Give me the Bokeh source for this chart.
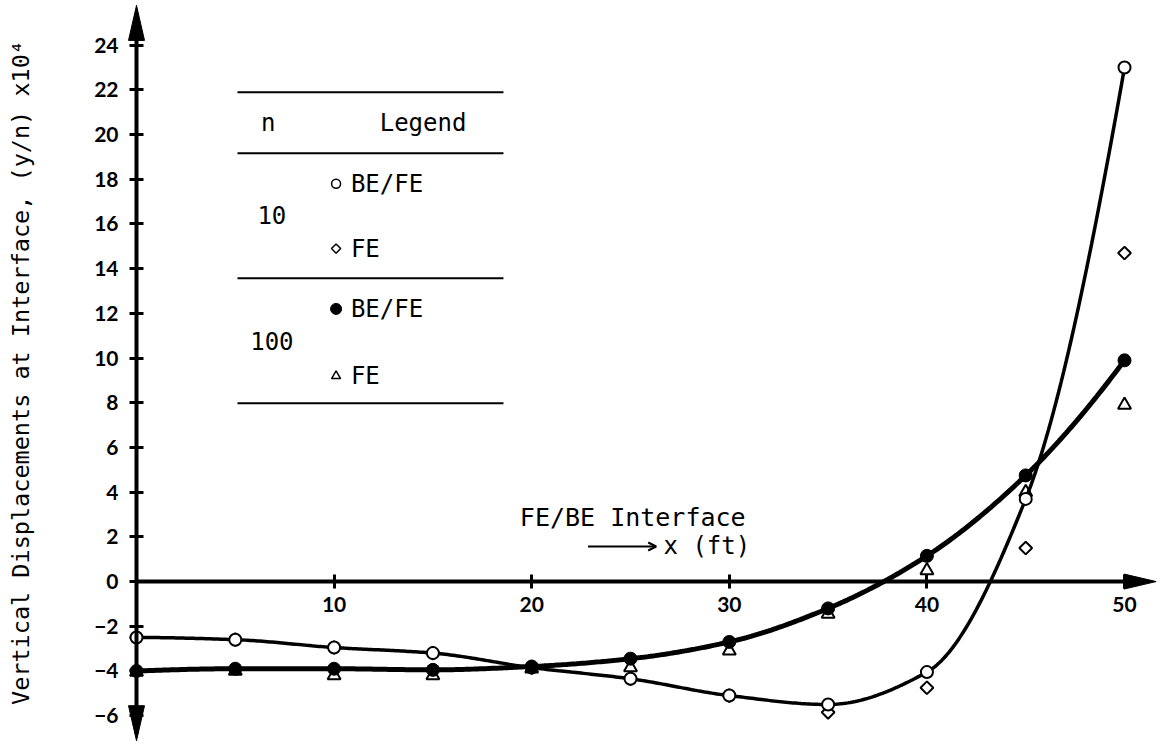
import numpy as np
from bokeh.plotting import figure
from bokeh.models import Range1d, FixedTicker, Arrow, OpenHead, LinearAxis
from bokeh.core.properties import value
from bokeh.embed import file_html
from bokeh.resources import INLINE

# ---------------- data ----------------
x_ft = [0, 5, 10, 15, 20, 25, 30, 35, 40, 45, 50]
n10_befe = [-2.5, -2.6, -2.95, -3.2, -3.85, -4.35, -5.1, -5.5, -4.05, 3.7, 23.0]
n10_fe = [-2.5, -2.6, -2.95, -3.2, -3.85, -4.35, -5.1, -5.85, -4.75, 1.5, 14.7]
n100_befe = [-4.0, -3.9, -3.9, -3.95, -3.8, -3.45, -2.7, -1.2, 1.15, 4.75, 9.9]
n100_fe = [-4.05, -4.0, -4.2, -4.2, -3.9, -3.85, -3.1, -1.45, 0.5, 4.0, 7.9]

y_ticks = [-6, -4, -2, 0, 2, 4, 6, 8, 10, 12, 14, 16, 18, 20, 22, 24]
x_ticks = [10, 20, 30, 40, 50]

y_label = "Vertical Displacements at Interface, (y/n) x10\u2074"
legend_rows = ["n", "Legend"]
legend_n = ["10", "100"]
legend_items = ["BE/FE", "FE", "BE/FE", "FE"]

# ---------------- layout constants ----------------
W, H = 1158, 744
BORDER_L = 120
X0, X1 = -0.81, 51.72
Y0, Y1 = -7.29, 26.0
PX_X = (W - BORDER_L) / (X1 - X0)
PX_Y = H / (Y1 - Y0)


def pchip(xk, yk, n_per=40):
    xk = np.asarray(xk, float)
    yk = np.asarray(yk, float)
    h = np.diff(xk)
    d = np.diff(yk) / h
    m = np.zeros_like(yk)
    for k in range(1, len(xk) - 1):
        if d[k - 1] * d[k] > 0:
            w1 = 2 * h[k] + h[k - 1]
            w2 = h[k] + 2 * h[k - 1]
            m[k] = (w1 + w2) / (w1 / d[k - 1] + w2 / d[k])

    def end(h0, h1, d0, d1):
        mm = ((2 * h0 + h1) * d0 - h0 * d1) / (h0 + h1)
        if np.sign(mm) != np.sign(d0):
            mm = 0.0
        elif np.sign(d0) != np.sign(d1) and abs(mm) > abs(3 * d0):
            mm = 3 * d0
        return mm

    m[0] = end(h[0], h[1], d[0], d[1])
    m[-1] = end(h[-1], h[-2], d[-1], d[-2])
    xs, ys = [], []
    for k in range(len(h)):
        t = np.linspace(0, 1, n_per, endpoint=(k == len(h) - 1))
        h00 = 2 * t**3 - 3 * t**2 + 1
        h10 = t**3 - 2 * t**2 + t
        h01 = -2 * t**3 + 3 * t**2
        h11 = t**3 - t**2
        xs.append(xk[k] + t * h[k])
        ys.append(h00 * yk[k] + h10 * h[k] * m[k] + h01 * yk[k + 1] + h11 * h[k] * m[k + 1])
    return np.concatenate(xs), np.concatenate(ys)


p = figure(width=W, height=H, output_backend="svg", toolbar_location=None,
           x_range=Range1d(X0, X1), y_range=Range1d(Y0, Y1),
           min_border_left=BORDER_L, min_border_right=0,
           min_border_top=0, min_border_bottom=0)
p.grid.visible = False
p.outline_line_color = None
p.background_fill_color = "white"
p.border_fill_color = "white"

# left axis: only tick labels and the title
ly = p.yaxis[0]
ly.ticker = FixedTicker(ticks=y_ticks)
ly.axis_line_color = None
ly.major_tick_line_color = None
ly.minor_tick_line_color = None
ly.major_tick_in = 0
ly.major_tick_out = 0
ly.major_label_standoff = 2
ly.major_label_text_font = "Lato"
ly.major_label_text_font_style = "bold"
ly.major_label_text_font_size = "21px"
ly.major_label_text_color = "black"
ly.axis_label = y_label
ly.axis_label_text_font = "DejaVu Sans Mono"
ly.axis_label_text_font_style = "normal"
ly.axis_label_text_font_size = "23.5px"
ly.axis_label_text_color = "black"
ly.axis_label_standoff = 56

# axes lines through the origin
vy = LinearAxis(fixed_location=0, ticker=FixedTicker(ticks=y_ticks),
                major_label_text_font_size="0px", major_label_text_color=None)
p.add_layout(vy, "left")
bx = p.xaxis[0]
bx.fixed_location = 0
bx.ticker = FixedTicker(ticks=x_ticks)
for ax in (bx, vy):
    ax.axis_line_width = 4
    ax.axis_line_color = "black"
    ax.major_tick_in = 7
    ax.major_tick_out = 7
    ax.major_tick_line_width = 3
    ax.major_tick_line_color = "black"
    ax.minor_tick_line_color = None
bx.bounds = (0, 50.8)
vy.bounds = (-6.8, 25.0)
bx.major_label_text_font = "Lato"
bx.major_label_text_font_style = "bold"
bx.major_label_text_font_size = "21px"
bx.major_label_text_color = "black"
bx.major_label_standoff = 8

# arrow heads on the axes
top_tip, bot_tip, right_tip = 25.78, -7.12, 51.6
hw_x = 8 / PX_X
hl_y = 35 / PX_Y
hw_y = 7.5 / PX_Y
hl_x = 32 / PX_X
p.patches(xs=[[0, -hw_x, hw_x], [0, -hw_x, hw_x], [right_tip, right_tip - hl_x, right_tip - hl_x]],
          ys=[[top_tip, top_tip - hl_y, top_tip - hl_y], [bot_tip, bot_tip + hl_y, bot_tip + hl_y],
              [0, hw_y, -hw_y]],
          fill_color="black", line_color="black", line_width=1)

# ---------------- data marks ----------------
cx10, cy10 = pchip(x_ft, n10_befe)
cx100, cy100 = pchip(x_ft, n100_befe)

p.scatter(x_ft, n100_fe, marker="triangle", size=13, fill_color="white",
          line_color="black", line_width=2)
p.scatter(x_ft, n10_fe, marker="square", angle=np.pi / 4, size=9, fill_color="white",
          line_color="black", line_width=2)
p.line(cx10, cy10, line_width=3.5, line_color="black")
p.line(cx100, cy100, line_width=5, line_color="black")
p.scatter(x_ft, n10_befe, marker="circle", size=12, fill_color="white",
          line_color="black", line_width=2)
p.scatter(x_ft, n100_befe, marker="circle", size=13, fill_color="black",
          line_color="black", line_width=1)

# ---------------- legend table ----------------
lx0, lx1 = 5.11, 18.57
ly_lines = [21.9, 19.17, 13.57, 7.98]
p.segment(x0=[lx0] * 4, x1=[lx1] * 4, y0=ly_lines, y1=ly_lines,
          line_color="black", line_width=2)
tf = value("DejaVu Sans Mono")
fs = value("24px")
p.text(x=[6.67, 14.5], y=[20.53, 20.53], text=legend_rows, text_font=tf,
       text_font_size=fs, text_align="center", text_baseline="middle")
p.text(x=[6.85, 6.85], y=[16.38, 10.78], text=legend_n, text_font=tf,
       text_font_size=fs, text_align="center", text_baseline="middle")
leg_y = [17.8, 14.9, 12.2, 9.2]
p.text(x=[10.85] * 4, y=leg_y, text=legend_items, text_font=tf,
       text_font_size=fs, text_align="left", text_baseline="middle")
p.scatter([10.1], [leg_y[0]], marker="circle", size=9, fill_color="white", line_color="black", line_width=1.5)
p.scatter([10.1], [leg_y[1]], marker="square", angle=np.pi / 4, size=6.5, fill_color="white",
          line_color="black", line_width=1.5)
p.scatter([10.1], [leg_y[2]], marker="circle", size=11, fill_color="black", line_color="black")
p.scatter([10.1], [leg_y[3]], marker="triangle", size=9, fill_color="white", line_color="black", line_width=1.5)

# ---------------- annotation ----------------
p.text(x=[19.4], y=[2.87], text=["FE/BE Interface"], text_font=tf,
       text_font_size=value("25px"), text_align="left", text_baseline="middle")
p.add_layout(Arrow(x_start=22.85, y_start=1.57, x_end=26.3, y_end=1.57, line_width=2,
                   end=OpenHead(size=8, line_width=2)))
p.text(x=[26.67], y=[1.57], text=["x (ft)"], text_font=tf,
       text_font_size=value("24px"), text_align="left", text_baseline="middle")

open("out.html", "w").write(file_html(p, INLINE))
